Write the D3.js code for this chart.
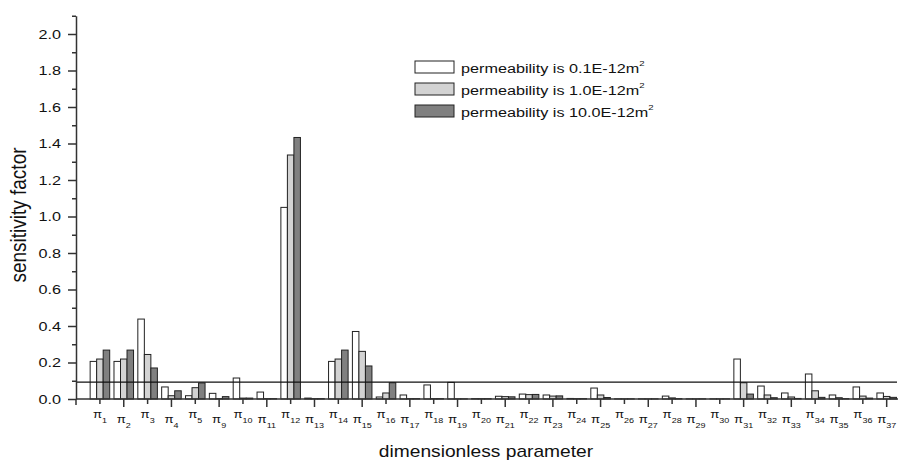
<!DOCTYPE html>
<html>
<head>
<meta charset="utf-8">
<script src="https://cdn.jsdelivr.net/npm/d3@7"></script>
<style>
body { margin: 0; background: #fff; }
text { font-family: "Liberation Sans", Arial, Helvetica, sans-serif; fill: #111; }
</style>
</head>
<body>
<script>
// subscripts of the dimensionless parameters (pi_n)
var params = ["1","2","3","4","5","9","10","11","12","13","14","15","16","17","18","19","20","21","22","23","24","25","26","27","28","29","30","31","32","33","34","35","36","37"];
var seriesNames = ["0.1", "1.0", "10.0"];
// sensitivity factor for each permeability
var perm01 = [0.206,0.206,0.438,0.066,0.018,0.031,0.115,0.038,1.05,0.005,0.206,0.37,0.011,0.022,0.077,0.091,0.002,0.015,0.027,0.022,0.003,0.060,0.001,0.001,0.016,0.001,0.001,0.219,0.071,0.033,0.137,0.022,0.066,0.033];
var perm1 = [0.219,0.219,0.244,0.018,0.062,0.002,0.005,0.002,1.337,0.002,0.219,0.261,0.033,0.002,0.002,0.001,0.002,0.013,0.024,0.016,0.002,0.022,0.001,0.001,0.006,0.001,0.001,0.089,0.022,0.011,0.045,0.007,0.016,0.014];
var perm10 = [0.268,0.268,0.170,0.045,0.088,0.013,0.005,0.002,1.433,0.002,0.268,0.181,0.089,0.002,0.002,0.001,0.002,0.012,0.025,0.017,0.002,0.008,0.001,0.001,0.002,0.001,0.001,0.027,0.007,0.003,0.009,0.002,0.005,0.009];
var threshold = 0.093;
var yMajor = [0,0.2,0.4,0.6,0.8,1.0,1.2,1.4,1.6,1.8,2.0];
var yMinor = [0.1,0.3,0.5,0.7,0.9,1.1,1.3,1.5,1.7,1.9,2.1];

var colors = ["#ffffff", "#d3d3d3", "#808080"];
var sx = 1.2; // text in the picture is a bit wider than tall

var svg = d3.select("body").append("svg")
  .attr("width", 901)
  .attr("height", 463);

var y = d3.scaleLinear().domain([0, 2.1]).range([399, 15.75]);
var x = d3.scaleBand().domain(params).range([88, 898.6]);
var gw = x.bandwidth() * 0.82;
var inner = d3.scaleBand().domain(seriesNames).range([0, gw]);

// build rows for bars
var rows = [];
params.forEach(function(p, i) {
  [perm01, perm1, perm10].forEach(function(arr, k) {
    rows.push({p: p, s: seriesNames[k], v: arr[i], k: k});
  });
});

svg.append("g").selectAll("rect")
  .data(rows)
  .enter()
  .append("rect")
  .attr("x", function(d) { return x(d.p) + (x.bandwidth() - gw) / 2 + inner(d.s); })
  .attr("width", inner.bandwidth())
  .attr("y", function(d) { return y(d.v); })
  .attr("height", function(d) { return y(0) - y(d.v); })
  .attr("fill", function(d) { return colors[d.k]; })
  .attr("stroke", "#222")
  .attr("stroke-width", 1);

// threshold line
svg.append("line")
  .attr("x1", 76).attr("x2", 897)
  .attr("y1", y(threshold)).attr("y2", y(threshold))
  .attr("stroke", "#111").attr("stroke-width", 1.2);

// y axis
var yAxis = svg.append("g").attr("transform", "translate(76,0)")
  .call(d3.axisLeft(y).tickValues(yMajor).tickSize(8).tickSizeOuter(0).tickFormat(d3.format(".1f")));
yAxis.select(".domain").attr("stroke", "#333").attr("stroke-width", 1.5);
yAxis.selectAll(".tick line").attr("stroke", "#333").attr("stroke-width", 1.5);
yAxis.selectAll(".tick text")
  .attr("x", -15 / sx)
  .attr("transform", "scale(" + sx + ",1)")
  .attr("font-size", 13.5)
  .attr("font-family", "Liberation Sans, Arial, sans-serif")
  .attr("fill", "#111");

var yMin = svg.append("g").attr("transform", "translate(76,0)")
  .call(d3.axisLeft(y).tickValues(yMinor).tickSize(4).tickFormat(""));
yMin.select(".domain").remove();
yMin.selectAll(".tick line").attr("stroke", "#333").attr("stroke-width", 1.5);

// x axis line
svg.append("line")
  .attr("x1", 76).attr("x2", 898)
  .attr("y1", 399).attr("y2", 399)
  .attr("stroke", "#333").attr("stroke-width", 1.5);
svg.append("line")
  .attr("x1", 76).attr("x2", 76)
  .attr("y1", 399).attr("y2", 405)
  .attr("stroke", "#333").attr("stroke-width", 1.5);

// x ticks: alternate short / long
svg.append("g").selectAll("line")
  .data(params)
  .enter()
  .append("line")
  .attr("x1", function(d) { return x(d) + x.bandwidth() / 2; })
  .attr("x2", function(d) { return x(d) + x.bandwidth() / 2; })
  .attr("y1", 399)
  .attr("y2", function(d, i) { return i % 2 ? 407 : 404; })
  .attr("stroke", "#333")
  .attr("stroke-width", 1.5);

// x tick labels: pi with subscript, staggered
var lab = svg.append("g").selectAll("text")
  .data(params)
  .enter()
  .append("text")
  .attr("transform", function(d, i) {
    return "translate(" + (x(d) + x.bandwidth() / 2) + "," + (i % 2 ? 423 : 417.5) + ") scale(" + sx + ",1)";
  })
  .attr("text-anchor", "middle")
  .attr("font-size", 11);
lab.append("tspan").text("\u03c0");
lab.append("tspan")
  .attr("font-size", 7.5)
  .attr("dy", 5)
  .text(function(d) { return d; });

// axis titles
svg.append("text")
  .attr("transform", "translate(486,457) scale(" + sx + ",1)")
  .attr("text-anchor", "middle")
  .attr("font-size", 16)
  .text("dimensionless parameter");

svg.append("text")
  .attr("transform", "translate(26,215) rotate(-90) scale(1," + sx + ")")
  .attr("text-anchor", "middle")
  .attr("font-size", 19)
  .text("sensitivity factor");

// legend
var legend = svg.append("g").selectAll("g")
  .data(seriesNames)
  .enter()
  .append("g")
  .attr("transform", function(d, i) { return "translate(415," + (61 + i * 22) + ")"; });
legend.append("rect")
  .attr("width", 39).attr("height", 12)
  .attr("fill", function(d, i) { return colors[i]; })
  .attr("stroke", "#222").attr("stroke-width", 1);
var lt = legend.append("text")
  .attr("transform", "translate(46,12) scale(" + sx + ",1)")
  .attr("font-size", 13.5);
lt.append("tspan").text(function(d) { return "permeability is " + d + "E-12m"; });
lt.append("tspan").attr("font-size", 8).attr("dy", -7).text("2");
</script>
</body>
</html>
